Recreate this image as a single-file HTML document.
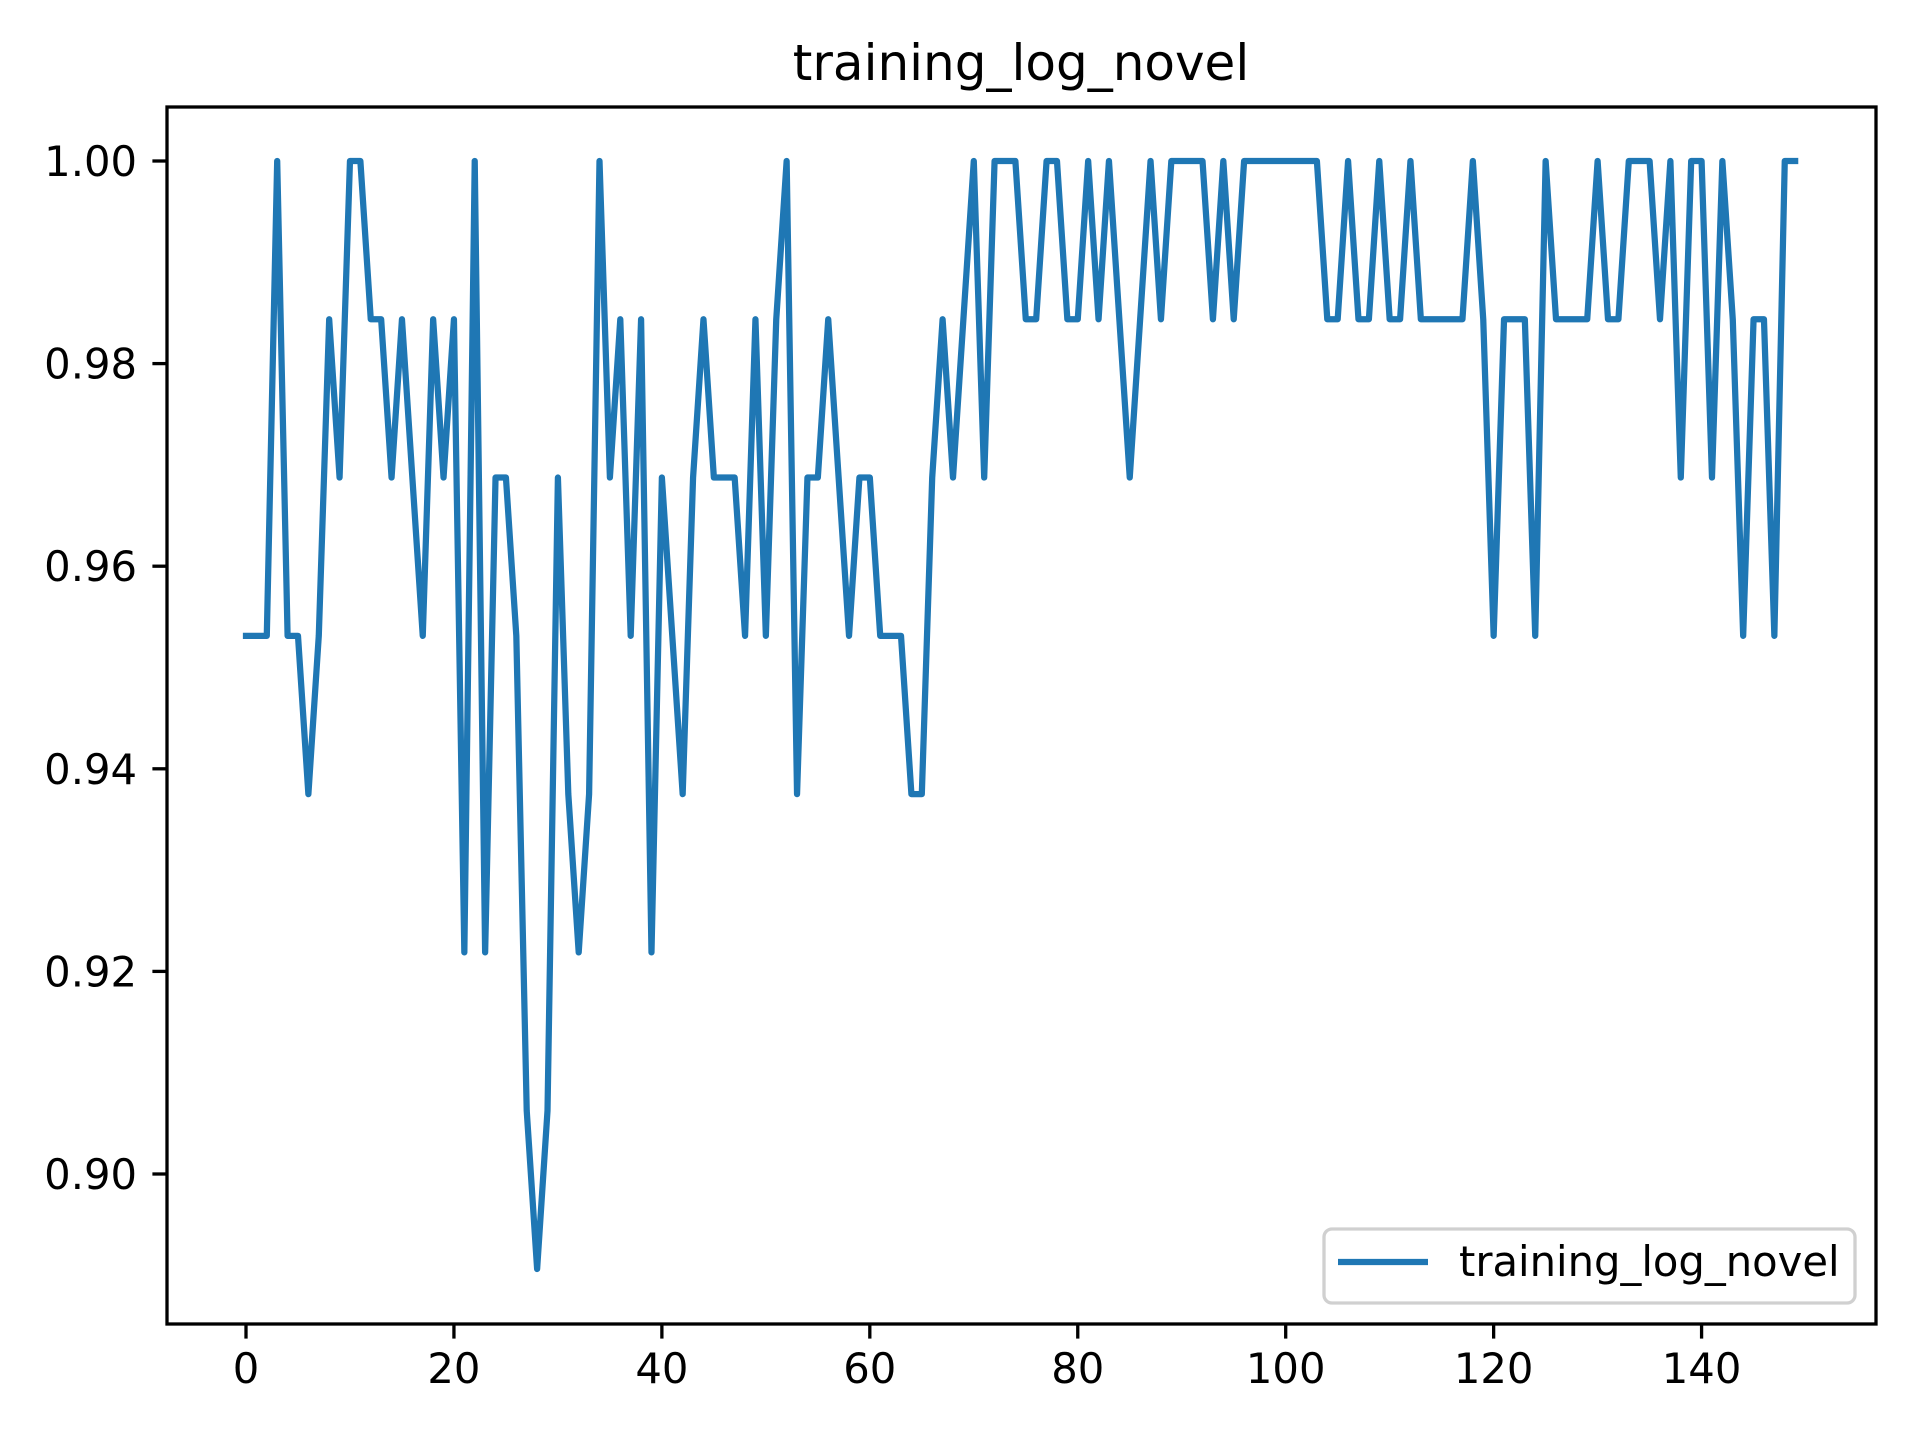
<!DOCTYPE html>
<html><head><meta charset="utf-8">
<style>
html,body{margin:0;padding:0;background:#fff;}
svg{display:block;font-family:"DejaVu Sans","Liberation Sans",sans-serif;}
</style></head>
<body>
<svg id="chart" width="1920" height="1440" viewBox="0 0 1920 1440">
  <rect x="0" y="0" width="1920" height="1440" fill="#fff"/>
  <text x="1021" y="80" font-size="50" text-anchor="middle" fill="#000">training_log_novel</text>
  <g id="xticks"></g>
  <g id="yticks"></g>
  <polyline id="series" fill="none" stroke="#1f77b4" stroke-width="6.25" stroke-linejoin="round" stroke-linecap="square"/>
  <rect x="167" y="107" width="1709" height="1217" fill="none" stroke="#000" stroke-width="3.3"/>
  <g>
    <rect x="1324" y="1229" width="531" height="74" rx="8" fill="#fff" fill-opacity="0.8" stroke="#d0d0d0" stroke-width="3.3"/>
    <line x1="1338" y1="1262" x2="1428" y2="1262" stroke="#1f77b4" stroke-width="6.25"/>
    <text x="1459" y="1276" font-size="41.7" fill="#000">training_log_novel</text>
  </g>
</svg>
<script>
const xTickValues = [0, 20, 40, 60, 80, 100, 120, 140];
const yTickValues = [0.90, 0.92, 0.94, 0.96, 0.98, 1.00];
const yTickLabels = ["0.90", "0.92", "0.94", "0.96", "0.98", "1.00"];
const accuracy = [
0.953125,0.953125,0.953125,1,0.953125,0.953125,0.9375,0.953125,0.984375,0.96875,
1,1,0.984375,0.984375,0.96875,0.984375,0.96875,0.953125,0.984375,0.96875,
0.984375,0.921875,1,0.921875,0.96875,0.96875,0.953125,0.90625,0.890625,0.90625,
0.96875,0.9375,0.921875,0.9375,1,0.96875,0.984375,0.953125,0.984375,0.921875,
0.96875,0.953125,0.9375,0.96875,0.984375,0.96875,0.96875,0.96875,0.953125,0.984375,
0.953125,0.984375,1,0.9375,0.96875,0.96875,0.984375,0.96875,0.953125,0.96875,
0.96875,0.953125,0.953125,0.953125,0.9375,0.9375,0.96875,0.984375,0.96875,0.984375,
1,0.96875,1,1,1,0.984375,0.984375,1,1,0.984375,
0.984375,1,0.984375,1,0.984375,0.96875,0.984375,1,0.984375,1,
1,1,1,0.984375,1,0.984375,1,1,1,1,
1,1,1,1,0.984375,0.984375,1,0.984375,0.984375,1,
0.984375,0.984375,1,0.984375,0.984375,0.984375,0.984375,0.984375,1,0.984375,
0.953125,0.984375,0.984375,0.984375,0.953125,1,0.984375,0.984375,0.984375,0.984375,
1,0.984375,0.984375,1,1,1,0.984375,1,0.96875,1,
1,0.96875,1,0.984375,0.953125,0.984375,0.984375,0.953125,1,1
];
const X0 = 246, XPER = 10.397;
const Y1 = 161, Y09 = 1174;
function xScale(v){ return X0 + v * XPER; }
function yScale(v){ return Y09 + (v - 0.90) / 0.10 * (Y1 - Y09); }
const NS = "http://www.w3.org/2000/svg";
const xg = document.getElementById('xticks');
xTickValues.forEach(v => {
  const x = xScale(v);
  const t = document.createElementNS(NS, 'line');
  t.setAttribute('x1', x); t.setAttribute('x2', x);
  t.setAttribute('y1', 1324); t.setAttribute('y2', 1338.6);
  t.setAttribute('stroke', '#000'); t.setAttribute('stroke-width', '3.3');
  
  
  xg.appendChild(t);
  const l = document.createElementNS(NS, 'text');
  l.setAttribute('x', x); l.setAttribute('y', 1383);
  l.setAttribute('font-size', '41.7'); l.setAttribute('text-anchor', 'middle');
  l.textContent = String(v);
  
  
  xg.appendChild(l);
});
const yg = document.getElementById('yticks');
yTickValues.forEach((v, i) => {
  const y = yScale(v);
  const t = document.createElementNS(NS, 'line');
  t.setAttribute('x1', 152.4); t.setAttribute('x2', 167);
  t.setAttribute('y1', y); t.setAttribute('y2', y);
  t.setAttribute('stroke', '#000'); t.setAttribute('stroke-width', '3.3');
  
  
  yg.appendChild(t);
  const l = document.createElementNS(NS, 'text');
  l.setAttribute('x', 137); l.setAttribute('y', y + 15);
  l.setAttribute('font-size', '41.7'); l.setAttribute('text-anchor', 'end');
  l.textContent = yTickLabels[i];
  
  
  yg.appendChild(l);
});
document.getElementById('series').setAttribute('points',
  accuracy.map((v, i) => xScale(i).toFixed(2) + ',' + yScale(v).toFixed(2)).join(' '));
</script>
</body></html>
